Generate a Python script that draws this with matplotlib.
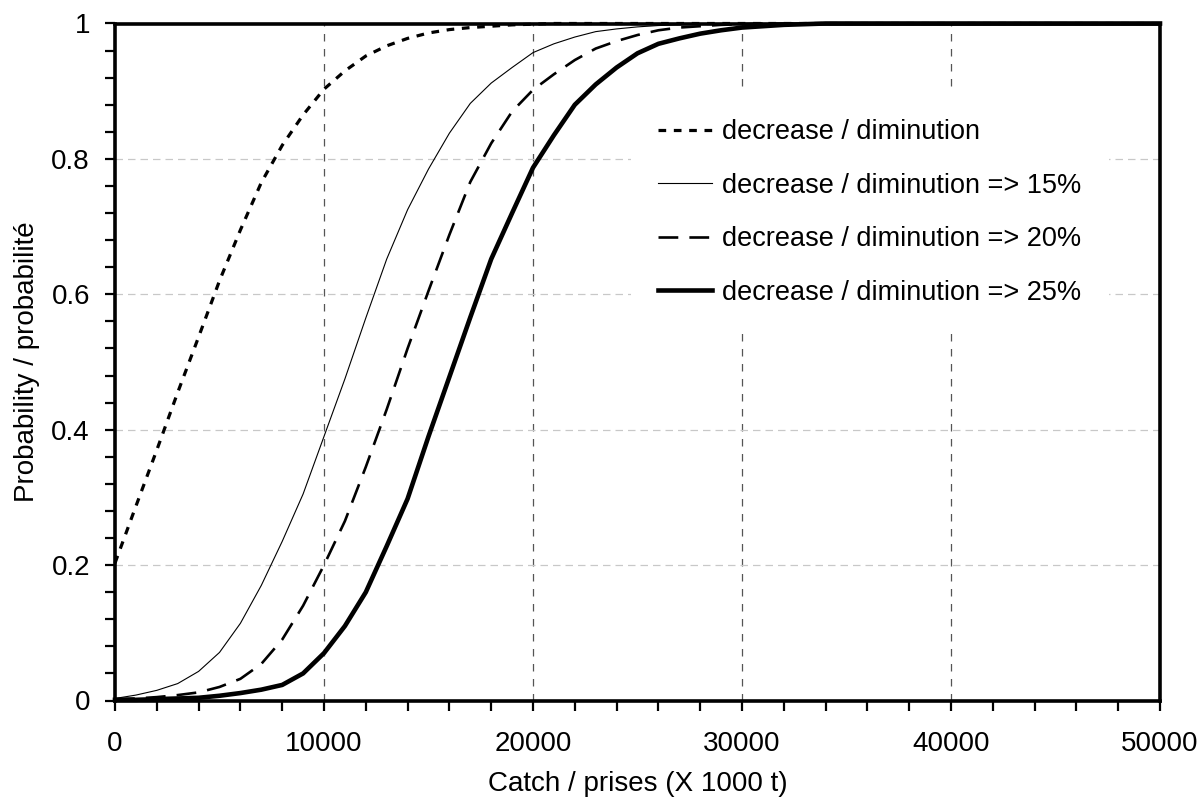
import matplotlib
matplotlib.use("Agg")
import matplotlib.pyplot as plt
from matplotlib.ticker import MultipleLocator, FuncFormatter

plt.rcParams['font.family'] = ['Liberation Sans', 'DejaVu Sans']

# Catch (x 1000 t), every 1000 from 0 to 50000
catch = list(range(0, 50001, 1000))

p_decrease = [0.203, 0.287, 0.370, 0.455, 0.537, 0.620, 0.695, 0.765, 0.820, 0.865,
              0.903, 0.930, 0.952, 0.967, 0.978, 0.986, 0.991, 0.994, 0.996, 0.998,
              0.999, 1.0, 1.0, 1.0, 1.0, 1.0, 1.0, 1.0, 1.0, 1.0,
              1.0, 1.0, 1.0, 1.0, 1.0, 1.0, 1.0, 1.0, 1.0, 1.0,
              1.0, 1.0, 1.0, 1.0, 1.0, 1.0, 1.0, 1.0, 1.0, 1.0, 1.0]

p_15 = [0.003, 0.008, 0.015, 0.025, 0.043, 0.071, 0.114, 0.170, 0.235, 0.305,
        0.390, 0.475, 0.565, 0.652, 0.725, 0.785, 0.838, 0.882, 0.912, 0.935,
        0.957, 0.970, 0.980, 0.988, 0.992, 0.995, 0.997, 0.998, 0.999, 1.0,
        1.0, 1.0, 1.0, 1.0, 1.0, 1.0, 1.0, 1.0, 1.0, 1.0,
        1.0, 1.0, 1.0, 1.0, 1.0, 1.0, 1.0, 1.0, 1.0, 1.0, 1.0]

p_20 = [0.002, 0.003, 0.005, 0.008, 0.012, 0.020, 0.032, 0.054, 0.090, 0.140,
        0.200, 0.265, 0.345, 0.430, 0.520, 0.605, 0.688, 0.766, 0.823, 0.870,
        0.902, 0.925, 0.946, 0.963, 0.974, 0.983, 0.990, 0.994, 0.996, 0.998,
        0.999, 1.0, 1.0, 1.0, 1.0, 1.0, 1.0, 1.0, 1.0, 1.0,
        1.0, 1.0, 1.0, 1.0, 1.0, 1.0, 1.0, 1.0, 1.0, 1.0, 1.0]

p_25 = [0.001, 0.001, 0.002, 0.003, 0.004, 0.007, 0.011, 0.016, 0.023, 0.040,
        0.070, 0.110, 0.160, 0.228, 0.298, 0.390, 0.478, 0.566, 0.652, 0.720,
        0.787, 0.835, 0.880, 0.910, 0.935, 0.956, 0.970, 0.978, 0.985, 0.990,
        0.994, 0.996, 0.998, 0.999, 1.0, 1.0, 1.0, 1.0, 1.0, 1.0,
        1.0, 1.0, 1.0, 1.0, 1.0, 1.0, 1.0, 1.0, 1.0, 1.0, 1.0]

labels = ["decrease / diminution",
          "decrease / diminution => 15%",
          "decrease / diminution => 20%",
          "decrease / diminution => 25%"]

fig = plt.figure(figsize=(12.04, 8.07), dpi=100)
ax = fig.add_axes([115 / 1204, 1 - 700.5 / 807, 1045 / 1204, 677 / 807])

ax.plot(catch, p_decrease, color='black', lw=2.3, dashes=(2.4, 2.4),
        label=labels[0], zorder=3, clip_on=False, solid_capstyle='butt')
ax.plot(catch, p_15, color='black', lw=0.8, label=labels[1], zorder=3, clip_on=False)
ax.plot(catch, p_20, color='black', lw=1.9, dashes=(7.5, 4.2), label=labels[2],
        zorder=3, clip_on=False)
ax.plot(catch, p_25, color='black', lw=3.3, label=labels[3], zorder=3, clip_on=False)

ax.set_xlim(0, 50000)
ax.set_ylim(0, 1)

# grid
for xv in [10000, 20000, 30000, 40000]:
    ax.axvline(xv, color='#555555', lw=0.9, dashes=(6, 6), zorder=1)
for yv in [0.2, 0.4, 0.6, 0.8]:
    ax.axhline(yv, color='#c8c8c8', lw=0.9, dashes=(6, 4), zorder=1)

ax.xaxis.set_major_locator(MultipleLocator(10000))
ax.xaxis.set_minor_locator(MultipleLocator(2000))
ax.yaxis.set_major_locator(MultipleLocator(0.2))
ax.yaxis.set_minor_locator(MultipleLocator(0.04))
ax.yaxis.set_major_formatter(FuncFormatter(lambda v, p: ('%g' % round(v, 2))))
ax.xaxis.set_major_formatter(FuncFormatter(lambda v, p: '%d' % v))

ax.tick_params(axis='both', which='both', direction='out', length=7, width=1.6,
               color='black', top=False, right=False)
ax.tick_params(axis='x', which='major', labelsize=20, pad=15)
ax.tick_params(axis='y', which='major', labelsize=20, pad=11)

for s in ax.spines.values():
    s.set_linewidth(2.6)
    s.set_color('black')
    s.set_zorder(4)

ax.set_xlabel("Catch / prises (X 1000 t)", fontsize=20, labelpad=10)
ax.set_ylabel("Probability / probabilité", fontsize=20, labelpad=8)

leg = ax.legend(loc='upper left', bbox_to_anchor=((631 - 115) / 1045, (700.5 - 92) / 677),
                borderaxespad=0, borderpad=1.0, fontsize=19.5, handlelength=2.0,
                handletextpad=0.37, labelspacing=1.02, frameon=True, fancybox=False)
leg.get_frame().set_facecolor('white')
leg.get_frame().set_edgecolor('none')
leg.get_frame().set_alpha(1)
leg.set_zorder(2)

fig.savefig("out.png", dpi=100)
